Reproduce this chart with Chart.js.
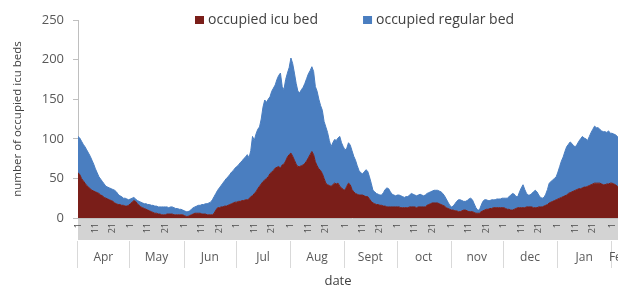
<!DOCTYPE html>
<html>
<head>
<meta charset="utf-8">
<script src="https://cdn.jsdelivr.net/npm/chart.js@4.4.1/dist/chart.umd.min.js"></script>
<style>
  html, body { margin: 0; padding: 0; background: #fff; overflow: hidden; }
  #wrap { position: relative; width: 632px; height: 287px; }
</style>
</head>
<body>
<div id="wrap"><canvas id="beds"></canvas></div>
<script>
const MONTHS = ["Apr", "May", "Jun", "Jul", "Aug", "Sept", "oct", "nov", "dec", "Jan", "Feb"];
const MONTH_DAYS = [30, 31, 30, 31, 31, 30, 31, 30, 31, 31, 9];
const TICK_DAYS = ["1", "11", "21"];

// one value per day, Apr 1 -> Feb 9
const icuBeds = [
  57, 55, 50, 47, 44, 41, 39, 37, 35, 34,
  33, 32, 31, 29, 28, 26, 25, 24, 23, 22,
  21, 19, 18, 17, 17, 16, 16, 15, 15, 16,
  18, 20, 22, 21, 18, 16, 14, 13, 12, 11,
  10, 9, 8, 7, 6, 6, 5, 5, 4, 4,
  4, 5, 5, 5, 5, 4, 4, 4, 4, 4,
  4, 3, 2, 2, 3, 4, 5, 6, 6, 6,
  6, 5, 5, 5, 4, 4, 4, 4, 6, 10,
  13, 13, 14, 14, 15, 15, 16, 17, 18, 19,
  20, 20, 21, 21, 22, 22, 23, 23, 24, 27,
  28, 31, 33, 37, 40, 43, 46, 48, 50, 52,
  56, 58, 60, 63, 64, 65, 63, 67, 68, 72,
  77, 80, 82, 78, 73, 68, 65, 65, 66, 67,
  69, 72, 76, 80, 84, 80, 71, 66, 62, 60,
  56, 50, 44, 42, 41, 40, 42, 44, 43, 44,
  40, 38, 36, 35, 40, 44, 42, 36, 33, 31,
  30, 29, 29, 29, 28, 27, 27, 24, 21, 19,
  18, 17, 17, 16, 16, 15, 15, 14, 14, 14,
  14, 14, 14, 14, 14, 13, 13, 13, 13, 13,
  14, 14, 14, 14, 13, 14, 14, 14, 14, 14,
  16, 17, 18, 19, 19, 19, 19, 18, 17, 16,
  15, 13, 12, 11, 10, 10, 9, 9, 8, 8,
  9, 10, 10, 9, 8, 8, 8, 7, 6, 6,
  6, 8, 9, 10, 11, 11, 12, 12, 13, 13,
  13, 13, 13, 13, 13, 12, 11, 11, 10, 10,
  11, 12, 13, 13, 13, 13, 13, 14, 14, 14,
  14, 13, 13, 13, 14, 14, 14, 15, 16, 17,
  19, 20, 21, 22, 23, 24, 25, 26, 27, 28,
  29, 31, 32, 33, 34, 35, 36, 37, 37, 38,
  39, 39, 40, 41, 42, 43, 44, 44, 44, 44,
  43, 42, 42, 43, 43, 44, 44, 43, 42, 40,
  40, 39, 39, 38, 38,
];
const regularBeds = [
  46, 46, 47, 46, 46, 45, 43, 41, 38, 34,
  29, 25, 21, 20, 18, 17, 15, 15, 15, 15,
  15, 16, 15, 13, 11, 11, 9, 10, 9, 7,
  6, 5, 4, 3, 4, 5, 6, 6, 6, 7,
  7, 8, 8, 9, 9, 9, 9, 9, 10, 10,
  10, 9, 8, 9, 9, 9, 8, 8, 7, 7,
  6, 6, 6, 6, 6, 7, 8, 8, 9, 10,
  10, 12, 12, 13, 14, 15, 16, 19, 21, 21,
  22, 25, 27, 30, 32, 35, 36, 38, 40, 41,
  43, 45, 46, 49, 50, 53, 54, 57, 52, 58,
  75, 67, 73, 75, 75, 82, 94, 101, 96, 98,
  97, 102, 104, 105, 111, 115, 120, 99, 94, 103,
  106, 110, 120, 117, 110, 102, 95, 93, 96, 98,
  101, 104, 106, 106, 107, 105, 95, 94, 88, 82,
  80, 72, 71, 66, 57, 50, 53, 55, 55, 57,
  63, 57, 54, 51, 48, 51, 50, 49, 45, 42,
  36, 31, 28, 27, 30, 34, 32, 28, 23, 16,
  15, 14, 13, 13, 13, 17, 21, 24, 23, 19,
  16, 15, 14, 15, 15, 15, 14, 13, 14, 14,
  15, 17, 16, 15, 15, 15, 16, 15, 14, 15,
  15, 15, 15, 15, 16, 16, 16, 16, 16, 15,
  13, 11, 8, 5, 4, 5, 9, 12, 15, 15,
  13, 11, 11, 13, 16, 17, 15, 11, 7, 4,
  4, 8, 12, 13, 12, 11, 10, 11, 10, 10,
  11, 11, 11, 12, 12, 13, 14, 16, 19, 21,
  19, 15, 14, 20, 25, 29, 23, 17, 15, 15,
  17, 20, 22, 20, 15, 12, 11, 11, 14, 19,
  25, 26, 27, 28, 29, 34, 40, 46, 50, 56,
  61, 62, 64, 61, 57, 55, 57, 60, 63, 65,
  62, 61, 58, 62, 66, 69, 72, 70, 70, 68,
  67, 67, 67, 65, 67, 63, 63, 63, 63, 63,
  61, 61, 60, 60, 59,
];

const ICU_COLOR = "#7a1e19";
const REG_COLOR = "#4a7ec0";
const FONT = "Open Sans";

// day-of-month category labels, and where each month starts
const dayLabels = [];
const monthStart = [];
MONTH_DAYS.forEach((n) => {
  monthStart.push(dayLabels.length);
  for (let d = 1; d <= n; d++) dayLabels.push(String(d));
});

// gray date band, month row, x title and legend (Excel-style)
const axisDecor = {
  id: "axisDecor",
  beforeDraw(chart) {
    const { ctx, chartArea } = chart;
    ctx.save();
    ctx.fillStyle = "#d3d3d3";
    ctx.fillRect(chartArea.left, chartArea.bottom + 1, chart.width - chartArea.left, 21);
    ctx.restore();
  },
  afterDraw(chart) {
    const { ctx, chartArea, scales: { x } } = chart;
    const step = x.getPixelForValue(1) - x.getPixelForValue(0);
    const top = chartArea.bottom + 23;
    const bottom = chartArea.bottom + 50;
    ctx.save();
    ctx.strokeStyle = "#d9d9d9";
    ctx.lineWidth = 1;
    ctx.font = `12px ${FONT}`;
    ctx.fillStyle = "#595959";
    ctx.textAlign = "center";
    ctx.textBaseline = "middle";
    MONTHS.forEach((name, m) => {
      const first = monthStart[m];
      const last = first + MONTH_DAYS[m] - 1;
      const x0 = x.getPixelForValue(first) - step / 2;
      const x1 = x.getPixelForValue(last) + step / 2;
      const lx = Math.round(x0) + 0.5;
      ctx.beginPath();
      ctx.moveTo(lx, top);
      ctx.lineTo(lx, bottom);
      ctx.stroke();
      ctx.fillText(name, (x0 + x1) / 2, chartArea.bottom + 40);
    });

    ctx.font = `13px ${FONT}`;
    ctx.fillStyle = "#404040";
    ctx.fillText("date", (chartArea.left + chartArea.right) / 2 - 14, chartArea.bottom + 63);

    ctx.font = `14px ${FONT}`;
    ctx.textAlign = "left";
    let lx = 195;
    const ly = 20;
    for (const ds of chart.data.datasets) {
      ctx.fillStyle = ds.backgroundColor;
      ctx.fillRect(lx, ly - 4, 9, 8);
      ctx.fillStyle = "#404040";
      ctx.fillText(ds.label, lx + 13, ly);
      lx += 13 + ctx.measureText(ds.label).width + 45;
    }
    ctx.restore();
  },
};

new Chart(document.getElementById("beds"), {
  type: "line",
  data: {
    labels: dayLabels,
    datasets: [
      {
        label: "occupied icu bed",
        data: icuBeds,
        backgroundColor: ICU_COLOR,
        borderColor: ICU_COLOR,
        borderWidth: 1,
        pointRadius: 0,
        tension: 0,
        fill: "origin",
      },
      {
        label: "occupied regular bed",
        data: regularBeds,
        backgroundColor: REG_COLOR,
        borderColor: REG_COLOR,
        borderWidth: 1,
        pointRadius: 0,
        tension: 0,
        fill: "-1",
      },
    ],
  },
  options: {
    responsive: true,
    maintainAspectRatio: false,
    animation: false,
    layout: { padding: { top: 20, right: 6, left: 0, bottom: 0 } },
    plugins: {
      legend: { display: false },
      tooltip: { enabled: false },
    },
    scales: {
      x: {
        ticks: {
          autoSkip: false,
          minRotation: 90,
          maxRotation: 90,
          padding: 5,
          color: "#4d4d4d",
          font: { family: FONT, size: 9 },
          callback: (v, i) => (TICK_DAYS.includes(dayLabels[i]) ? dayLabels[i] : null),
        },
        grid: { display: false, drawTicks: false },
        border: { color: "#bfbfbf" },
        afterFit: (scale) => { scale.height = 69; },
      },
      y: {
        stacked: true,
        min: 0,
        max: 250,
        ticks: { stepSize: 50, padding: 9, color: "#595959", font: { family: FONT, size: 13 } },
        grid: { drawOnChartArea: false, drawTicks: true, tickLength: 5, color: "#bfbfbf" },
        border: { color: "#bfbfbf" },
        title: {
          display: true,
          text: "number of occupied icu beds",
          color: "#404040",
          font: { family: FONT, size: 11.5 },
          padding: { top: 11, bottom: 0 },
        },
        afterFit: (scale) => { scale.width = 78; },
      },
    },
  },
  plugins: [axisDecor],
});
</script>
</body>
</html>
